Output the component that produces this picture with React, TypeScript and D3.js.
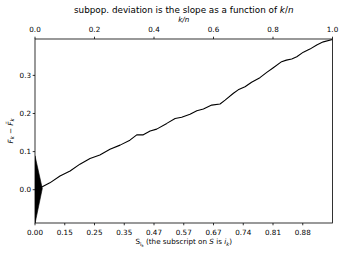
import React from "react";
import * as d3 from "d3";

const kn = [0, 0.0245, 0.05, 0.084, 0.118, 0.151, 0.185, 0.218, 0.252, 0.286, 0.319, 0.342, 0.364, 0.387, 0.409, 0.443, 0.471, 0.493, 0.521, 0.544, 0.566, 0.594, 0.622, 0.639, 0.667, 0.683, 0.706, 0.728, 0.756, 0.779, 0.801, 0.829, 0.845, 0.863, 0.88, 0.902, 0.924, 0.947, 0.969, 1.0];
const dev = [0, 0.0079, 0.018, 0.036, 0.049, 0.067, 0.082, 0.091, 0.106, 0.117, 0.13, 0.144, 0.144, 0.154, 0.159, 0.174, 0.187, 0.19, 0.198, 0.207, 0.212, 0.222, 0.225, 0.235, 0.253, 0.262, 0.27, 0.282, 0.294, 0.308, 0.32, 0.336, 0.34, 0.343, 0.349, 0.361, 0.369, 0.38, 0.388, 0.394];
const bottomTicks = [0, 0.1, 0.2, 0.3, 0.4, 0.5, 0.6, 0.7, 0.8, 0.9];
const bottomLabels = ["0.00", "0.15", "0.25", "0.35", "0.47", "0.57", "0.67", "0.74", "0.81", "0.88"];
const topTicks = [0, 0.2, 0.4, 0.6, 0.8, 1.0];
const yTicks = [0, 0.1, 0.2, 0.3];
const triangle: [number, number][] = [[0, 0.089], [0.0245, 0.003], [0, -0.089]];

export default function App() {
  const W = 345, H = 254;
  const L = 35, R = 332.5, T = 39, B = 223;
  const x = d3.scaleLinear().domain([0, 1]).range([L, R]);
  const y = d3.scaleLinear().domain([-0.0874, 0.3955]).range([B, T]);
  const line = d3.line<number>().x((_, i) => x(kn[i])).y((d) => y(d));
  const tri = d3.line<[number, number]>().x((d) => x(d[0])).y((d) => y(d[1]));
  const font = "DejaVu Sans, sans-serif";
  const fs = 7.2;
  const sub = 5.2;
  return (
    <svg width={W} height={H} style={{ position: "absolute", left: 0, top: 0, background: "#fff" }} fontFamily={font}>
      <defs>
        <clipPath id="pa"><rect x={L} y={T} width={R - L} height={B - T} /></clipPath>
      </defs>
      <g clipPath="url(#pa)">
        <path d={tri(triangle) + "Z"} fill="#000" stroke="#000" strokeWidth={0.6} />
        <path d={line(dev) || ""} fill="none" stroke="#000" strokeWidth={1.1} strokeLinejoin="round" />
      </g>
      <rect x={L} y={T} width={R - L} height={B - T} fill="none" stroke="#000" strokeWidth={0.8} />
      {yTicks.map((t) => (
        <g key={"y" + t}>
          <line x1={L} x2={L - 2.3} y1={y(t)} y2={y(t)} stroke="#000" strokeWidth={0.8} />
          <text x={L - 4} y={y(t)} dy="0.36em" textAnchor="end" fontSize={fs}>{t.toFixed(1)}</text>
        </g>
      ))}
      {bottomTicks.map((t, i) => (
        <g key={"b" + t}>
          <line x1={x(t)} x2={x(t)} y1={B} y2={B + 2.3} stroke="#000" strokeWidth={0.8} />
          <text x={x(t)} y={B + 12.2} textAnchor="middle" fontSize={fs}>{bottomLabels[i]}</text>
        </g>
      ))}
      {topTicks.map((t) => (
        <g key={"t" + t}>
          <line x1={x(t)} x2={x(t)} y1={T} y2={T - 2.3} stroke="#000" strokeWidth={0.8} />
          <text x={x(t)} y={T - 7} textAnchor="middle" fontSize={fs}>{t.toFixed(1)}</text>
        </g>
      ))}
      <text x={(L + R) / 2} y={22} textAnchor="middle" fontSize={fs} fontStyle="italic">k/n</text>
      <text x={(L + R) / 2} y={13} textAnchor="middle" fontSize={8.8}>
        subpop. deviation is the slope as a function of <tspan fontStyle="italic">k</tspan>/<tspan fontStyle="italic">n</tspan>
      </text>
      <text x={(L + R) / 2} y={244} textAnchor="middle" fontSize={fs}>
        S<tspan fontSize={sub} dy="1.5">i</tspan><tspan fontSize={3.8} dy="1">k</tspan><tspan dy="-2.5"> (the subscript on </tspan><tspan fontStyle="italic">S</tspan> is <tspan fontStyle="italic">i</tspan><tspan fontSize={sub} fontStyle="italic" dy="1.5">k</tspan><tspan dy="-1.5">)</tspan>
      </text>
      <g transform={`translate(12.5, ${(T + B) / 2}) rotate(-90)`}>
        <text x={0} y={0} textAnchor="middle" fontSize={fs} fontStyle="italic">
          F<tspan fontSize={sub} dy="1.5">k</tspan><tspan fontStyle="normal" dy="-1.5"> − </tspan>F̃<tspan fontSize={sub} dy="1.5">k</tspan>
        </text>
      </g>
    </svg>
  );
}
